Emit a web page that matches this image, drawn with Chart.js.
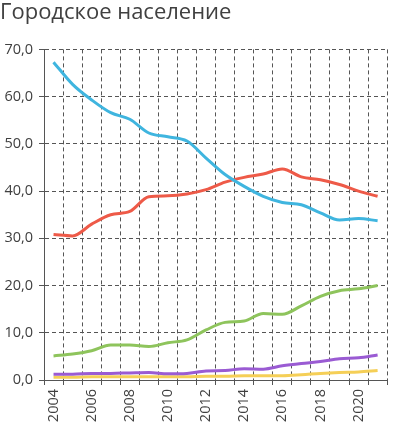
<!DOCTYPE html>
<html>
<head>
<meta charset="utf-8">
<script src="https://cdn.jsdelivr.net/npm/chart.js@4/dist/chart.umd.min.js"></script>
<style>
  html, body { margin: 0; padding: 0; background: #fff; }
  #wrap { width: 399px; height: 424px; position: relative; }
</style>
</head>
<body>
<div id="wrap"><canvas id="chartUrban"></canvas></div>
<script>
const years = ['2004', '2005', '2006', '2007', '2008', '2009', '2010', '2011', '2012',
  '2013', '2014', '2015', '2016', '2017', '2018', '2019', '2020', '2021']
const blueData = [67.3, 62.6, 59.3, 56.6, 55.2, 52.3, 51.5, 50.6, 47.0, 43.5, 41.0, 38.9, 37.6, 37.1, 35.4, 33.9, 34.2, 33.7]
const redData = [30.8, 30.5, 33.0, 35.0, 35.7, 38.8, 39.0, 39.4, 40.3, 41.9, 42.9, 43.6, 44.7, 43.0, 42.4, 41.4, 40.0, 38.9]
const greenData = [5.1, 5.5, 6.2, 7.4, 7.4, 7.1, 7.9, 8.5, 10.6, 12.2, 12.5, 14.1, 13.9, 15.7, 17.7, 18.9, 19.3, 20.0]
const purpleData = [1.2, 1.2, 1.4, 1.4, 1.5, 1.6, 1.3, 1.4, 1.9, 2.0, 2.4, 2.3, 3.0, 3.5, 3.9, 4.5, 4.7, 5.3]
const yellowData = [0.6, 0.6, 0.7, 0.7, 0.7, 0.7, 0.7, 0.7, 0.8, 0.8, 0.9, 0.9, 0.9, 1.1, 1.4, 1.6, 1.7, 2.0]
const yTicks = [0, 10, 20, 30, 40, 50, 60, 70]

const gridColor = '#555555'
const textColor = '#404040'
const fontName = '"Open Sans", sans-serif'

function series(data, color) {
    return {
        data: data,
        borderColor: color,
        backgroundColor: color,
        borderWidth: 3,
        pointRadius: 0,
        cubicInterpolationMode: 'monotone',
        fill: false
    }
}

var ctxUrban = document.getElementById('chartUrban').getContext('2d');
var chartUrban = new Chart(ctxUrban, {
    type: 'line',
    data: {
        labels: years,
        datasets: [
            series(blueData, '#3fb5df'),
            series(redData, '#ee5a48'),
            series(greenData, '#8ec45c'),
            series(purpleData, '#9a5bd3'),
            series(yellowData, '#f5cf57')
        ]
    },
    options: {
        responsive: true,
        maintainAspectRatio: false,
        animation: false,
        layout: { padding: { left: 0, right: 0, top: 0, bottom: 0 } },
        plugins: {
            legend: { display: false },
            tooltip: { enabled: false },
            title: {
                display: true,
                text: 'Городское население',
                align: 'start',
                color: textColor,
                font: { family: fontName, size: 22, weight: 'normal' },
                padding: { top: 0, bottom: 23, left: 4 }
            }
        },
        scales: {
            x: {
                offset: true,
                grid: {
                    offset: true,
                    color: gridColor,
                    lineWidth: 1,
                    tickLength: 5,
                    tickColor: gridColor,
                    tickBorderDash: []
                },
                border: { color: gridColor, width: 1, dash: [4, 3] },
                ticks: {
                    autoSkip: false,
                    minRotation: 90,
                    maxRotation: 90,
                    padding: 4,
                    color: textColor,
                    font: { family: fontName, size: 14.5 },
                    callback: function (val, i) {
                        return i % 2 === 0 ? years[i] : ''
                    }
                },
                afterFit: function (scale) { scale.height = 44 }
            },
            y: {
                min: 0,
                max: 70,
                afterBuildTicks: function (scale) {
                    scale.ticks = yTicks.map(function (v) { return { value: v } })
                },
                grid: {
                    color: gridColor,
                    lineWidth: 1,
                    tickLength: 5,
                    tickColor: gridColor,
                    tickBorderDash: []
                },
                border: { color: gridColor, width: 1, dash: [4, 3] },
                ticks: {
                    padding: 6,
                    color: textColor,
                    font: { family: fontName, size: 14.5 },
                    callback: function (v) { return v.toFixed(1).replace('.', ',') }
                },
                afterFit: function (scale) { scale.width = 44 }
            }
        }
    }
});
</script>
</body>
</html>
